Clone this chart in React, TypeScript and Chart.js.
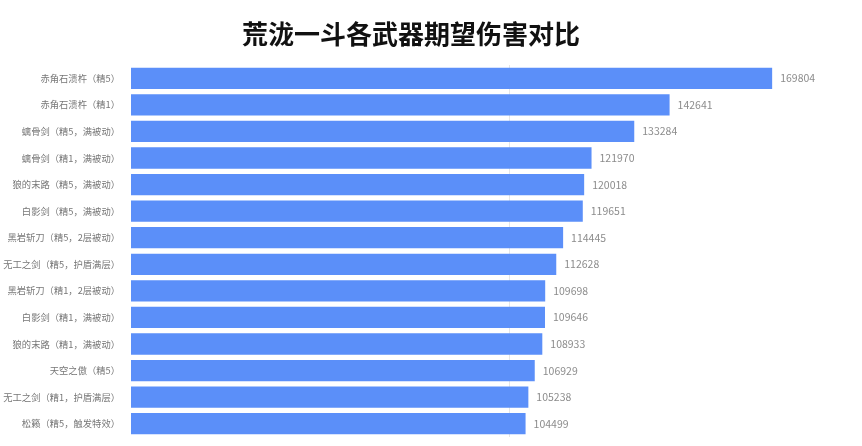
import React, { useEffect, useRef } from "react";
import { Chart, registerables } from "chart.js";

Chart.register(...registerables);

const TITLE = "荒泷一斗各武器期望伤害对比";

const categories = [
  "赤角石溃杵（精5）",
  "赤角石溃杵（精1）",
  "螭骨剑（精5，满被动）",
  "螭骨剑（精1，满被动）",
  "狼的末路（精5，满被动）",
  "白影剑（精5，满被动）",
  "黑岩斩刀（精5，2层被动）",
  "无工之剑（精5，护盾满层）",
  "黑岩斩刀（精1，2层被动）",
  "白影剑（精1，满被动）",
  "狼的末路（精1，满被动）",
  "天空之傲（精5）",
  "无工之剑（精1，护盾满层）",
  "松籁（精5，触发特效）",
];

const damageValues = [
  169804, 142641, 133284, 121970, 120018, 119651, 114445, 112628, 109698,
  109646, 108933, 106929, 105238, 104499,
];

const gridValues = [100000];

const FONT = "'Noto Sans CJK SC', 'Noto Sans', sans-serif";

export default function App() {
  const ref = useRef<HTMLCanvasElement | null>(null);

  useEffect(() => {
    if (!ref.current) return;

    const titlePlugin = {
      id: "customTitle",
      afterDraw(chart: any) {
        const ctx = chart.ctx;
        ctx.save();
        ctx.font = `bold 26px ${FONT}`;
        ctx.fillStyle = "#111111";
        ctx.textAlign = "center";
        ctx.textBaseline = "middle";
        ctx.fillText(TITLE, 411, 34);
        ctx.restore();
      },
    };

    const gridPlugin = {
      id: "gridLines",
      beforeDatasetsDraw(chart: any) {
        const ctx = chart.ctx;
        const xs = chart.scales.x;
        const area = chart.chartArea;
        ctx.save();
        ctx.strokeStyle = "#e6e6e6";
        ctx.lineWidth = 1;
        gridValues.forEach((v) => {
          const x = Math.round(xs.getPixelForValue(v)) + 0.5;
          ctx.beginPath();
          ctx.moveTo(x, area.top);
          ctx.lineTo(x, area.bottom);
          ctx.stroke();
        });
        ctx.restore();
      },
    };

    const valueLabels = {
      id: "valueLabels",
      afterDatasetsDraw(chart: any) {
        const ctx = chart.ctx;
        const meta = chart.getDatasetMeta(0);
        ctx.save();
        ctx.font = `10.5px ${FONT}`;
        ctx.fillStyle = "#8c8c8c";
        ctx.textAlign = "left";
        ctx.textBaseline = "middle";
        meta.data.forEach((bar: any, i: number) => {
          ctx.fillText(String(damageValues[i]), bar.x + 8, bar.y);
        });
        ctx.restore();
      },
    };

    const chart = new Chart(ref.current, {
      type: "bar",
      data: {
        labels: categories,
        datasets: [
          {
            data: damageValues,
            backgroundColor: "#5B8FF9",
            borderWidth: 0,
            barPercentage: 0.8,
            categoryPercentage: 1,
          },
        ],
      },
      options: {
        indexAxis: "y",
        animation: false,
        responsive: true,
        maintainAspectRatio: false,
        layout: { padding: { top: 65, bottom: 9, left: 0, right: 0 } },
        plugins: {
          legend: { display: false },
          title: { display: false },
          tooltip: { enabled: false },
        },
        scales: {
          x: {
            display: false,
            min: 0,
            max: 193600,
          },
          y: {
            afterFit: (s: any) => {
              s.width = 131;
              s.paddingTop = 0;
              s.paddingBottom = 0;
            },
            border: { display: false },
            grid: { display: false, drawTicks: false },
            ticks: {
              padding: 11,
              color: "#777777",
              font: { size: 9.3, family: FONT },
              autoSkip: false,
            },
          },
        },
      },
      plugins: [titlePlugin, gridPlugin, valueLabels],
    });

    return () => chart.destroy();
  }, []);

  return (
    <div
      style={{
        position: "fixed",
        left: 0,
        top: 0,
        width: 862,
        height: 446,
        background: "#ffffff",
      }}
    >
      <canvas ref={ref} />
    </div>
  );
}
